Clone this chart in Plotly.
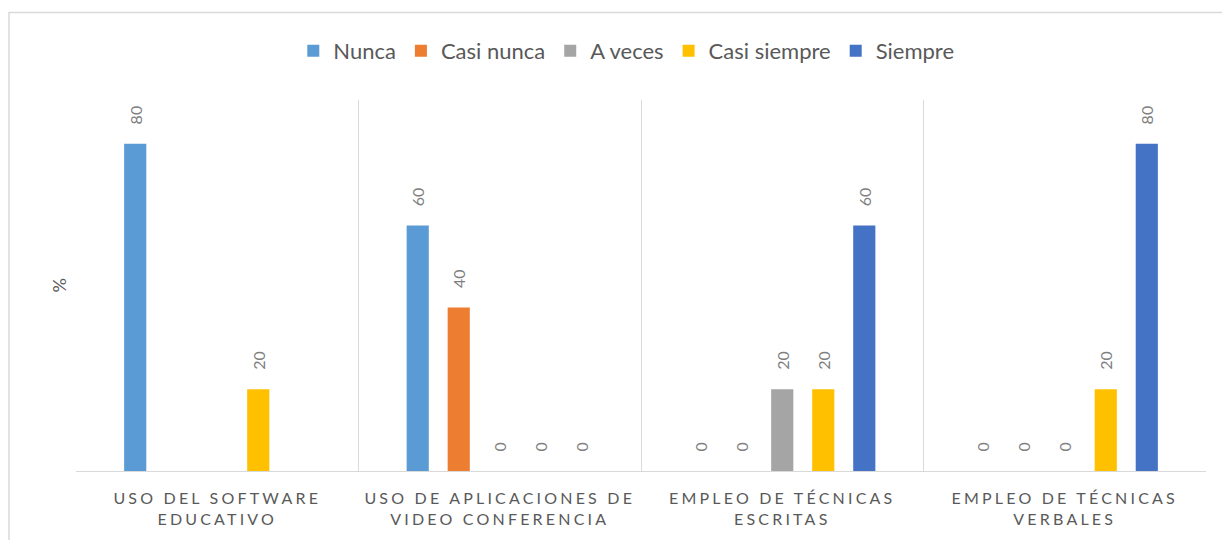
import plotly.graph_objects as go

categories = [
    "USO DEL SOFTWARE<br>EDUCATIVO",
    "USO DE APLICACIONES DE<br>VIDEO CONFERENCIA",
    "EMPLEO DE TÉCNICAS<br>ESCRITAS",
    "EMPLEO DE TÉCNICAS<br>VERBALES",
]
series_names = ["Nunca", "Casi nunca", "A veces", "Casi siempre", "Siempre"]
nunca = [80, 60, 0, 0]
casi_nunca = [None, 40, 0, 0]
a_veces = [None, 0, 20, 0]
casi_siempre = [20, 0, 20, 20]
siempre = [None, 0, 60, 80]
series_values = [nunca, casi_nunca, a_veces, casi_siempre, siempre]
colors = ["#5B9BD5", "#ED7D31", "#A5A5A5", "#FFC000", "#4472C4"]

FONT = "Lato, Carlito, Calibri, sans-serif"
PAD = "\u00a0\u00a0\u00a0\u00a0"

fig = go.Figure()
for name, vals, col in zip(series_names, series_values, colors):
    fig.add_trace(go.Bar(
        name=name,
        x=categories,
        y=vals,
        marker=dict(color=col, line=dict(width=0)),
        text=[None if v is None else PAD + str(v) for v in vals],
        texttemplate="%{text}",
        textposition="outside",
        textangle=-90,
        constraintext="none",
        cliponaxis=False,
        textfont=dict(family=FONT, size=16, color="#7F7F7F"),
        hoverinfo="skip",
    ))

fig.update_layout(
    width=1222,
    height=540,
    margin=dict(l=76, r=16, t=100, b=69, pad=0),
    paper_bgcolor="white",
    plot_bgcolor="white",
    barmode="group",
    bargap=0.274,
    bargroupgap=0.46,
    font=dict(family=FONT, color="#595959"),
    showlegend=True,
    legend=dict(
        orientation="h",
        x=0.487,
        xanchor="center",
        y=1.132,
        yanchor="middle",
        font=dict(family=FONT, size=22, color="#595959"),
        bgcolor="rgba(0,0,0,0)",
    ),
    xaxis=dict(
        type="category",
        tickson="boundaries",
        showgrid=True,
        gridcolor="#D9D9D9",
        gridwidth=1,
        showline=True,
        linecolor="#D9D9D9",
        linewidth=1,
        ticks="",
        tickfont=dict(family=FONT, size=16, color="#595959"),
        ticklabelstandoff=13,
        zeroline=False,
    ),
    yaxis=dict(
        range=[0, 90.7],
        showgrid=False,
        showticklabels=False,
        ticks="",
        showline=False,
        zeroline=False,
    ),
    annotations=[dict(
        text="%",
        xref="paper", yref="paper",
        x=(58 - 76) / 1130, y=0.5,
        xanchor="center", yanchor="middle",
        textangle=-90,
        showarrow=False,
        font=dict(family=FONT, size=18, color="#595959"),
    )],
    shapes=[dict(
        type="rect",
        xref="paper", yref="paper",
        x0=(9 - 76) / 1130, x1=1.2,
        y0=-0.5, y1=(471 - 12.5) / 371,
        line=dict(color="#D9D9D9", width=1.5),
        fillcolor="rgba(0,0,0,0)",
        layer="below",
    )],
)

post = """
document.body.style.margin = '0';
document.body.style.overflow = 'hidden';
var s = document.createElement('style');
s.innerHTML = '.xtick text { letter-spacing: 3.2px; }';
document.head.appendChild(s);
"""

fig.write_html("out.html", post_script=post, config={"displayModeBar": False})
